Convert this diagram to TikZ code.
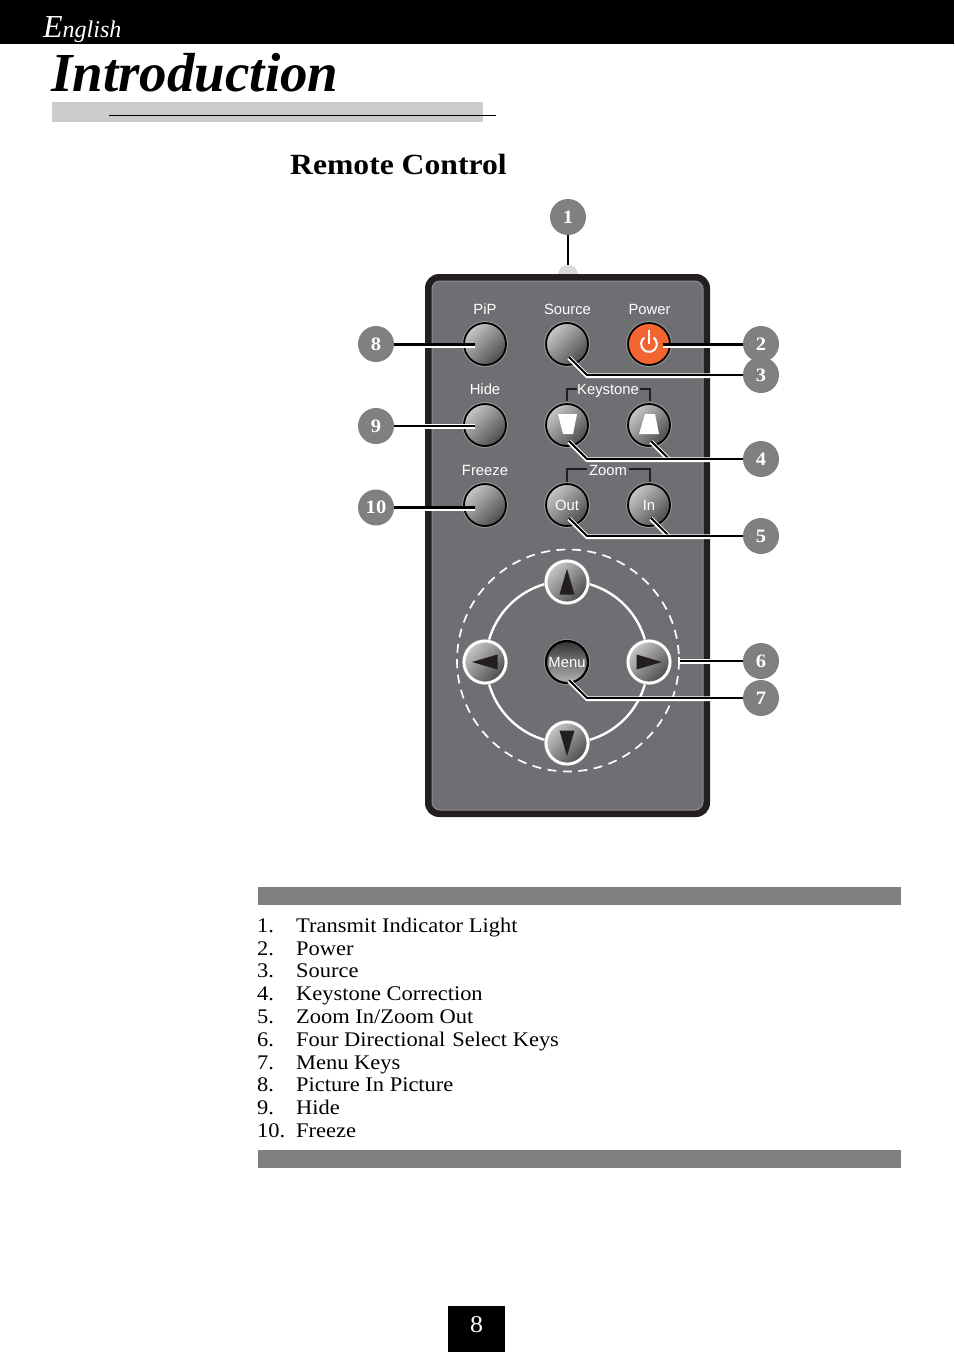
\documentclass[tikz,border=0pt]{standalone}
\usepackage{fontspec}
\setmainfont{Liberation Serif}
\setsansfont{Liberation Sans}
\newfontfamily\bookfont[FakeStretch=1.08]{Liberation Serif}
\usepackage{tikz}

\definecolor{framecol}{HTML}{231F20}
\definecolor{bodycol}{HTML}{6F6E72}
\definecolor{edgecol}{HTML}{8C8B8E}
\definecolor{badgecol}{HTML}{808080}
\definecolor{powercol}{HTML}{F26530}
\definecolor{barcol}{HTML}{CCCCCC}
\definecolor{ringcol}{HTML}{9A9A9C}

\tikzset{
        btn/.style={circle, minimum size=42pt, inner sep=0pt, line width=1.8pt, draw=black,
                top color=white!78!black, bottom color=black!70, shading angle=45,
                preaction={draw=ringcol, line width=3.8pt},
                text=white, font=\sffamily\fontsize{14.8}{16}\selectfont},
        navbtn/.style={btn, draw=white, line width=2.8pt, preaction={}},
        badge/.style={circle, fill=badgecol, minimum size=36pt, inner sep=0pt,
                text=white, font=\bookfont\bfseries\fontsize{19}{20}\selectfont},
        lab/.style={text=white, inner sep=0pt, font=\sffamily\fontsize{14.8}{16}\selectfont},
        leader/.style={draw=black, line width=1.8pt, miter limit=10,
                preaction={draw=white, line width=4.6pt, transform canvas={yshift=-0.7pt}}},
        leaderb/.style={draw=black, line width=3pt,
                preaction={draw=white, line width=5.4pt, transform canvas={yshift=-1.2pt}}},
        bracket/.style={draw=framecol, line width=2.6pt, miter limit=10},
        item/.style={anchor=base west, inner sep=0pt, font=\bookfont\fontsize{20.8}{23}\selectfont}
}

\begin{document}
\begin{tikzpicture}[x=1pt, y=-1pt]
        \path[use as bounding box] (0,0) rectangle (954,1352);

        % page head
        \fill[black] (0,0) rectangle (954,44);
        \node[anchor=base west, inner sep=0pt, text=white, font=\itshape\fontsize{24}{24}\selectfont] (lang) at (43,37)
                {{\fontsize{32}{32}\selectfont E}nglish};
        \node[anchor=base west, inner sep=0pt, font=\bfseries\itshape\fontsize{55}{57}\selectfont] (chapter) at (51,91) {Introduction};
        \fill[barcol] (52,102) rectangle (483,122);
        \draw[black, line width=1pt] (109,115.5) -- (496,115.5);
        \node[anchor=base west, inner sep=0pt, font=\bookfont\bfseries\fontsize{29.3}{32}\selectfont] (title) at (290,174) {Remote Control};

        % remote body
        \node[circle, fill=white!85!black, minimum size=20pt, inner sep=0pt] (dome) at (568,275) {};
        \fill[framecol, rounded corners=14pt] (425,274) rectangle (710,817);
        \draw[edgecol, fill=bodycol, line width=1pt, rounded corners=8pt] (432,281) rectangle (703,810);

        % labels
        \foreach \name/\x/\y/\txt in {pip/485/309.5/PiP, source/567.5/309.5/Source, power/649.5/309.5/Power,
                        hide/485/389.5/Hide, keystone/608/391/Keystone, freeze/485/470/Freeze, zoom/608/470/Zoom}
                \node[lab] (\name lab) at (\x,\y) {\txt};

        % brackets
        \draw[bracket] (567,401) -- (567,389) -- (577,389);
        \draw[bracket] (640,389) -- (650,389) -- (650,401);
        \draw[bracket] (567,482) -- (567,469) -- (587,469);
        \draw[bracket] (629,469) -- (650,469) -- (650,482);

        % buttons
        \foreach \name/\x/\y/\txt in {pip/485/344/, source/567/344/, hide/485/425/, keyl/567/425/, keyr/649/425/,
                        freeze/485/505/, out/567/505/Out, in/649/505/In}
                \node[btn] (\name) at (\x,\y) {\txt};
        \node[btn, top color=powercol, bottom color=powercol] (power) at (649,344) {};
        \draw[white, line width=2pt] (power.center) ++(4.6,-6.4) arc (-54:234:7.9);
        \draw[white, line width=2pt] (649,330) -- (649,344);
        \fill[white] (558,414) -- (577,414) -- (573,434) -- (563,434) -- cycle;
        \fill[white] (645,414) -- (655,414) -- (659,434) -- (639,434) -- cycle;

        % select keys
        \draw[white, line width=2.4pt] (567,662) circle (81);
        \draw[white, line width=1.7pt, dash pattern=on 9pt off 6.5pt] (568,660.5) circle (111);
        \node[navbtn] (up) at (567,582) {};
        \node[navbtn] (right) at (649,662) {};
        \node[navbtn] (down) at (567,743) {};
        \node[navbtn] (left) at (485,662) {};
        \foreach \name/\rot in {up/0, right/-90, down/180, left/90}
                \fill[framecol, shift={(\name)}, rotate=\rot] (0,-13) -- (7.5,12.5) -- (-7.5,12.5) -- cycle;
        \node[btn, top color=black!80, bottom color=white!70!black, shading angle=0, line width=2.2pt] (menu) at (567,662) {Menu};

        % numbered marks
        \foreach \n/\x/\y in {1/568/217, 2/761/344, 3/761/375, 4/761/459, 5/761/536, 6/761/661, 7/761/698,
                        8/376/344, 9/376/426, 10/376/507.5}
                \node[badge] (b\n) at (\x,\y) {\n};

        % connector ends
        \coordinate (tip2) at (663,344);
        \coordinate (tip3) at (569,357);
        \coordinate (bend3) at (587,375);
        \coordinate (tip4) at (569,441);
        \coordinate (bend4) at (587,459);
        \coordinate (tip4b) at (651,441);
        \coordinate (join4) at (669,459);
        \coordinate (tip5) at (569,518);
        \coordinate (bend5) at (587,536);
        \coordinate (tip5b) at (651,518);
        \coordinate (join5) at (669,536);
        \coordinate (tip6) at (679,661);
        \coordinate (tip7) at (569,680);
        \coordinate (bend7) at (587,698);
        \coordinate (tip8) at (475,344);
        \coordinate (tip9) at (475,426);
        \coordinate (tip10) at (475,507.5);

        \draw[black, line width=1.8pt] (b1) -- (dome.north);
        \draw[leaderb] (b2) -- (tip2);
        \draw[leader] (tip3) -- (bend3) -- (b3);
        \draw[leader] (tip4b) -- (join4);
        \draw[leader] (tip4) -- (bend4) -- (b4);
        \draw[leader] (tip5b) -- (join5);
        \draw[leader] (tip5) -- (bend5) -- (b5);
        \draw[leader] (tip6) -- (b6);
        \draw[white, line width=1.5pt] (679,657) -- (679,664);
        \draw[leader] (tip7) -- (bend7) -- (b7);
        \draw[leaderb] (b8) -- (tip8);
        \draw[leader] (b9) -- (tip9);
        \draw[leaderb] (b10) -- (tip10);

        % list of parts
        \fill[badgecol] (258,887) rectangle (901,905);
        \foreach \n/\txt [count=\i from 0] in {1/Transmit Indicator Light, 2/Power, 3/Source, 4/Keystone Correction,
                        5/Zoom In\slash Zoom Out, 6/Four Directional\hspace{7pt}Select Keys, 7/Menu Keys, 8/Picture In Picture, 9/Hide, 10/Freeze} {
                \node[item] (num\n) at (257,932.3+\i*22.8) {\n.};
                \node[item] (part\n) at (296,932.3+\i*22.8) {\txt};
        }
        \fill[badgecol] (258,1150) rectangle (901,1168);

        % page number
        \fill[black] (448,1306) rectangle (505,1352);
        \node[text=white, inner sep=0pt, font=\bookfont\fontsize{24}{26}\selectfont] (page) at (476.5,1324.5) {8};
\end{tikzpicture}
\end{document}
